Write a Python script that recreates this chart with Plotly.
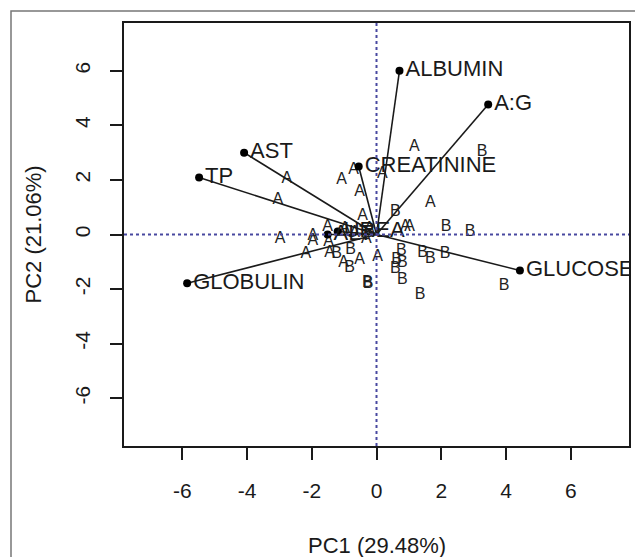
import plotly.graph_objects as go

# ---- data ----
var_names = ["ALBUMIN", "A:G", "CREATININE", "AST", "TP", "GLOBULIN", "GLUCOSE", "ALT", "UREA"]
var_pc1 = [0.71, 3.45, -0.55, -4.09, -5.48, -5.85, 4.43, -1.51, -1.20]
var_pc2 = [6.00, 4.76, 2.49, 3.00, 2.09, -1.79, -1.32, 0.00, 0.11]

grpA_pc1 = [-2.77, -3.05, -2.98, -1.97, -1.97, -2.18, -1.51, -1.48, -1.45, -1.08, -0.71, -0.52, -0.43,
            0.18, 1.17, 1.66, 0.89, 1.02, -1.02, -0.52, 0.03, -0.31, -0.22, -0.68, -0.98]
grpA_pc2 = [2.05, 1.25, -0.15, -0.07, -0.22, -0.70, 0.29, -0.29, -0.66, 2.01, 2.38, 1.54, 0.66,
            2.23, 3.19, 1.17, 0.26, 0.26, -1.06, -0.92, -0.81, -0.15, 0.22, 0.07, 0.22]

grpB_pc1 = [3.26, 0.58, 2.15, 2.89, -0.80, -1.23, -0.83, 0.77, 0.62, 0.80, 0.58, 0.80,
            1.42, 1.66, 2.12, -0.28, -0.26, 1.35, 3.94]
grpB_pc2 = [3.04, 0.84, 0.29, 0.11, -0.55, -0.70, -1.21, -0.59, -0.92, -1.06, -1.25, -1.65,
            -0.66, -0.88, -0.73, -1.79, -1.81, -2.20, -1.90]

tick_vals = [-6, -4, -2, 0, 2, 4, 6]
tick_text = ["-6", "-4", "-2", "0", "2", "4", "6"]
x_title = "PC1 (29.48%)"
y_title = "PC2 (21.06%)"

FONT = "Liberation Sans, Arial, sans-serif"
INK = "#1a1a1a"

fig = go.Figure()

# reference dotted lines at 0
fig.add_hline(y=0, line=dict(color="#4848a0", width=2, dash="dot"))
fig.add_vline(x=0, line=dict(color="#4848a0", width=2, dash="dot"))

# sample letters
fig.add_trace(go.Scatter(x=grpA_pc1, y=grpA_pc2, mode="text", text=["A"] * len(grpA_pc1),
                         textfont=dict(family=FONT, size=16, color="#222222"), showlegend=False))
fig.add_trace(go.Scatter(x=grpB_pc1, y=grpB_pc2, mode="text", text=["B"] * len(grpB_pc1),
                         textfont=dict(family=FONT, size=16, color="#222222"), showlegend=False))

# loading vectors
lx, ly = [], []
for vx, vy in zip(var_pc1, var_pc2):
    lx += [0, vx, None]
    ly += [0, vy, None]
fig.add_trace(go.Scatter(x=lx, y=ly, mode="lines", line=dict(color=INK, width=1.6),
                         showlegend=False))
fig.add_trace(go.Scatter(x=var_pc1, y=var_pc2, mode="markers+text", text=var_names,
                         textposition="middle right",
                         marker=dict(color="black", size=8),
                         textfont=dict(family=FONT, size=22, color=INK), showlegend=False))

axis_common = dict(
    showgrid=False, zeroline=False, showline=True, mirror=True, automargin=False,
    linecolor=INK, linewidth=1.5,
    ticks="outside", ticklen=12, tickwidth=1.5, tickcolor=INK,
    tickvals=tick_vals, ticktext=tick_text,
    tickfont=dict(family=FONT, size=21, color=INK),
)

fig.update_xaxes(range=[-7.8, 7.8], ticklabelstandoff=13, **axis_common)
fig.update_yaxes(range=[-7.75, 7.75], tickangle=-90, ticklabelstandoff=12, **axis_common)

# axis titles (positions given relative to the plot box)
fig.add_annotation(text=x_title, xref="paper", yref="paper", x=0.5, y=(446 - 545) / 423,
                   showarrow=False, xanchor="center", yanchor="middle",
                   font=dict(family=FONT, size=22, color=INK))
fig.add_annotation(text=y_title, xref="paper", yref="paper", x=(33 - 124) / 505, y=0.5,
                   showarrow=False, xanchor="center", yanchor="middle", textangle=-90,
                   font=dict(family=FONT, size=22, color=INK))

# outer frame of the figure panel
fig.add_shape(type="rect", xref="paper", yref="paper",
              x0=(11 - 124) / 505, x1=(645 - 124) / 505,
              y0=(446 - 570) / 423, y1=(446 - 11) / 423,
              line=dict(color="#777777", width=1.5), layer="below")

fig.update_layout(
    width=635, height=557,
    margin=dict(l=124, r=6, t=23, b=111, autoexpand=False),
    plot_bgcolor="white", paper_bgcolor="white",
    font=dict(family=FONT),
)

fig.write_html(
    "out.html",
    config={"displayModeBar": False},
    post_script="document.body.style.margin='0px';document.body.style.overflow='hidden';",
)
